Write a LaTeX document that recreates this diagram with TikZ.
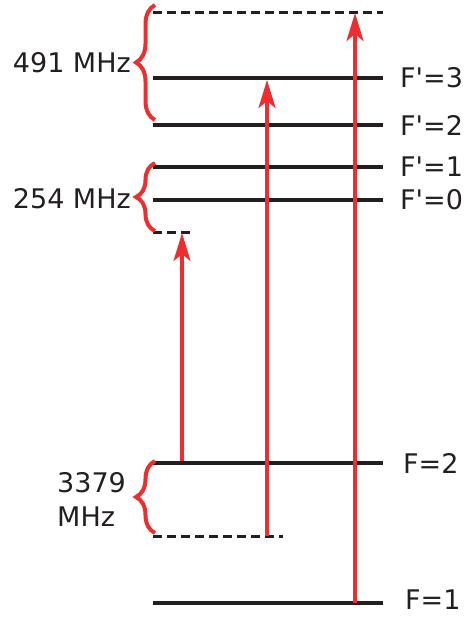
\documentclass[tikz,border=0pt]{standalone}
\usepackage{fontspec}
\setmainfont{DejaVu Sans}
\usetikzlibrary{arrows.meta, decorations.pathreplacing}
\definecolor{beamred}{HTML}{EE2D2F}
\definecolor{levelgray}{HTML}{231F20}

\tikzset{
  hfsline/.style={draw=levelgray, line width=4.3pt},
  virtline/.style={draw=levelgray, line width=3pt, dash pattern=on 9pt off 5pt},
  beam/.style={draw=beamred, line width=3.3pt, -{Stealth[length=28pt, width=17pt, inset=7pt]}},
  gapbrace/.style={draw=beamred, line width=4pt, decorate, decoration={brace, amplitude=19pt}},
  lbl/.style={font=\fontsize{27}{34}\selectfont, text=levelgray, inner sep=0pt},
}

\begin{document}
\begin{tikzpicture}[x=1pt, y=-1pt]
  \useasboundingbox (0,0) rectangle (464,617);

  % excited state F' levels
  \foreach \n/\y in {3/78, 2/125, 1/167, 0/200}{
    \coordinate (eL\n) at (153,\y);
    \coordinate (eR\n) at (383,\y);
    \draw[hfsline] (eL\n) -- (eR\n);
    \node[lbl, anchor=west] (etxt\n) at (400,\y) {F\textquotesingle=\n};
  }
  % ground state F levels
  \foreach \n/\y/\xl/\yl in {2/463/403/463, 1/603/405/600}{
    \coordinate (gL\n) at (153,\y);
    \coordinate (gR\n) at (383,\y);
    \draw[hfsline] (gL\n) -- (gR\n);
    \node[lbl, anchor=west] (gtxt\n) at (\xl,\yl) {F=\n};
  }

  % virtual levels (dashed)
  \coordinate (vtopL) at (153,13);  \coordinate (vtopR) at (383,13);
  \coordinate (vmidL) at (153,233); \coordinate (vmidR) at (190,233);
  \coordinate (vlowL) at (153,536); \coordinate (vlowR) at (283,536);
  \draw[virtline] (vtopL) -- (vtopR);
  \draw[virtline] (vmidL) -- (vmidR);
  \draw[virtline] (vlowL) -- (vlowR);

  % laser transitions
  \coordinate (a1s) at (182,461); \coordinate (a1e) at (182,233);
  \coordinate (a2s) at (267,536); \coordinate (a2e) at (267,80);
  \coordinate (a3s) at (355,603); \coordinate (a3e) at (355,13);
  \draw[beam] (a1s) -- (a1e);
  \draw[beam] (a2s) -- (a2e);
  \draw[beam] (a3s) -- (a3e);

  % splittings
  \draw[gapbrace] (155,120) -- (155,5);
  \draw[gapbrace] (155,231) -- (155,163);
  \draw[gapbrace] (155,533) -- (155,461);
  \node[lbl, anchor=east] (gap491) at (131,63) {491 MHz};
  \node[lbl, anchor=east] (gap254) at (131,199) {254 MHz};
  \node[lbl, anchor=west, align=left] (gap3379) at (57,499) {3379\\MHz};
\end{tikzpicture}
\end{document}
